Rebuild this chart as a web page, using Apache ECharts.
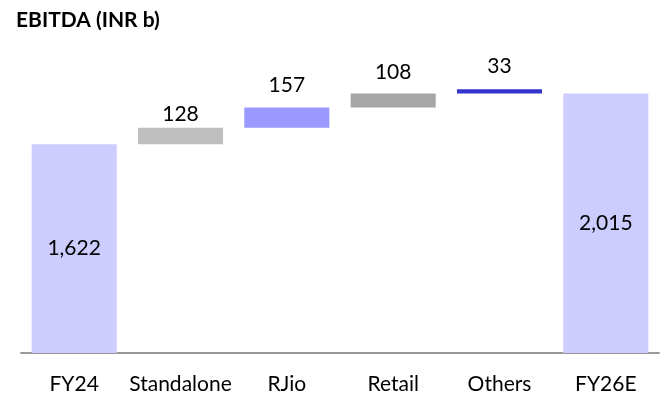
<!DOCTYPE html>
<html>
<head>
    <meta charset="utf-8">
    <title>EBITDA waterfall</title>
    <script src="https://cdn.jsdelivr.net/npm/echarts@6/dist/echarts.min.js"></script>
    <style>
        html, body { margin: 0; padding: 0; background: #fff; }
        #chart { width: 664px; height: 399px; }
    </style>
</head>
<body>
<div id="chart"></div>
<script type="text/javascript">
    // EBITDA bridge FY24 -> FY26E (INR b)
    var categories = ['FY24', 'Standalone', 'RJio', 'Retail', 'Others', 'FY26E'];
    var values = [1622, 128, 157, 108, 33, 2015];
    var isTotal = [true, false, false, false, false, true];

    var colors = ['#ccccff', '#bfbfbf', '#9999ff', '#a6a6a6', '#3333cc', '#ccccff'];
    var labelGap = [0, 3, 12, 11, 13, 0];
    var font = 'Lato, "Noto Sans", sans-serif';

    // invisible base for the floating bars
    var base = [];
    var run = 0;
    for (var i = 0; i < values.length; i++) {
        if (isTotal[i]) {
            base.push(0);
            run = values[i];
        } else {
            base.push(run);
            run += values[i];
        }
    }

    var barData = values.map(function (v, i) {
        return {
            value: v,
            itemStyle: { color: colors[i] },
            label: {
                position: isTotal[i] ? 'inside' : 'top',
                distance: labelGap[i]
            }
        };
    });

    var chart = echarts.init(document.getElementById('chart'));
    chart.setOption({
        animation: false,
        title: {
            text: 'EBITDA (INR b)',
            left: 11,
            top: 5,
            textStyle: { fontFamily: font, fontSize: 21, fontWeight: 'bold', color: '#000' }
        },
        grid: { left: 21, right: 5, top: 44, bottom: 46 },
        xAxis: {
            type: 'category',
            data: categories,
            axisLine: { lineStyle: { color: '#999', width: 2 } },
            axisTick: { show: false },
            axisLabel: { fontFamily: font, fontSize: 21, color: '#000', margin: 21, interval: 0 }
        },
        yAxis: {
            type: 'value',
            min: 0,
            max: 2400,
            show: false,
            splitLine: { show: false }
        },
        series: [{
            type: 'bar',
            stack: 'w',
            data: base,
            itemStyle: { color: 'transparent' },
            barCategoryGap: '20%',
            silent: true
        }, {
            type: 'bar',
            stack: 'w',
            data: barData,
            barCategoryGap: '20%',
            label: {
                show: true,
                fontFamily: font,
                fontSize: 21,
                color: '#000',
                formatter: function (p) { return p.value.toLocaleString('en-US'); }
            }
        }]
    });
</script>
</body>
</html>
